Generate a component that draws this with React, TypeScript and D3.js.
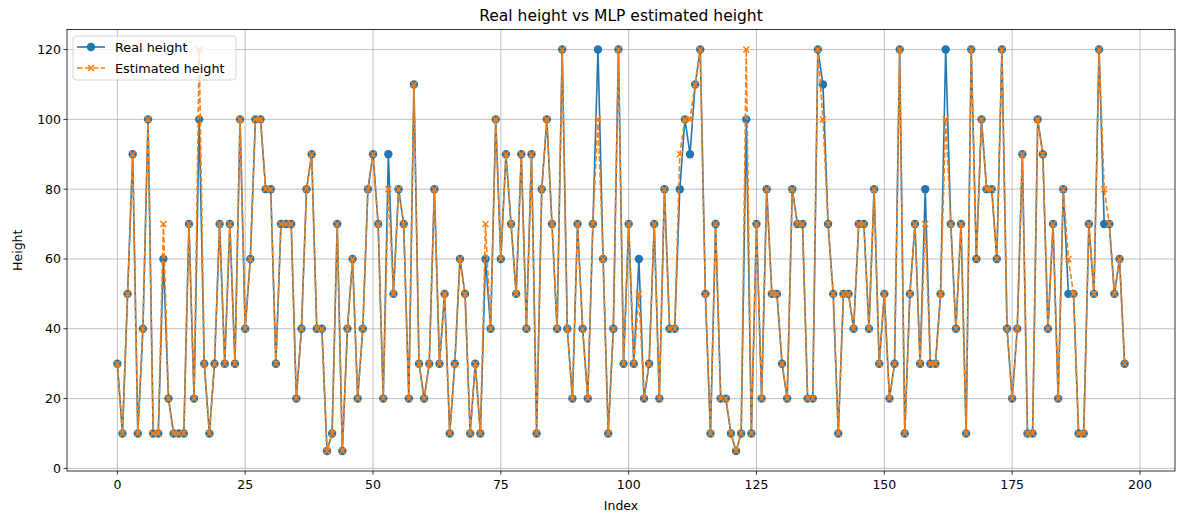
import React from "react";
import * as d3 from "d3";

// real and MLP-estimated heights, one per index 0..197
const realHeight = [
  30, 10, 50, 90, 10, 40, 100, 10, 10, 60, 20, 10, 10, 10, 70, 20, 100, 30, 10, 30,
  70, 30, 70, 30, 100, 40, 60, 100, 100, 80, 80, 30, 70, 70, 70, 20, 40, 80, 90, 40,
  40, 5, 10, 70, 5, 40, 60, 20, 40, 80, 90, 70, 20, 90, 50, 80, 70, 20, 110, 30,
  20, 30, 80, 30, 50, 10, 30, 60, 50, 10, 30, 10, 60, 40, 100, 60, 90, 70, 50, 90,
  40, 90, 10, 80, 100, 70, 40, 120, 40, 20, 70, 40, 20, 70, 120, 60, 10, 40, 120, 30,
  70, 30, 60, 20, 30, 70, 20, 80, 40, 40, 80, 100, 90, 110, 120, 50, 10, 70, 20, 20,
  10, 5, 10, 100, 10, 70, 20, 80, 50, 50, 30, 20, 80, 70, 70, 20, 20, 120, 110, 70,
  50, 10, 50, 50, 40, 70, 70, 40, 80, 30, 50, 20, 30, 120, 10, 50, 70, 30, 80, 30,
  30, 50, 120, 70, 40, 70, 10, 120, 60, 100, 80, 80, 60, 120, 40, 20, 40, 90, 10, 10,
  100, 90, 40, 70, 20, 80, 50, 50, 10, 10, 70, 50, 120, 70, 70, 50, 60, 30,
];

// indices where the estimate differs from the real value
const diffIndex = [9, 16, 53, 72, 94, 102, 110, 112, 123, 138, 158, 162, 186, 193];
const diffValue = [70, 120, 80, 70, 100, 50, 90, 100, 120, 100, 70, 100, 60, 80];

const estHeight = realHeight.map((v, i) => {
  const k = diffIndex.indexOf(i);
  return k >= 0 ? diffValue[k] : v;
});

const xTicks = [0, 25, 50, 75, 100, 125, 150, 175, 200];
const yTicks = [0, 20, 40, 60, 80, 100, 120];

const W = 1178, H = 514;
const m = { left: 67, right: 1175, top: 29.5, bottom: 471 };
const blue = "#1f77b4", orange = "#ff7f0e";
const font = "DejaVu Sans, sans-serif";

export default function App() {
  const n = realHeight.length;
  const x = d3.scaleLinear().domain([-(n - 1) * 0.05, (n - 1) * 1.05]).range([m.left, m.right]);
  const y = d3.scaleLinear().domain([5 - 115 * 0.05, 120 + 115 * 0.05]).range([m.bottom, m.top]);
  const line = d3.line<number>().x((d, i) => x(i)).y((d) => y(d));

  return (
    <svg width={W} height={H} style={{ position: "absolute", left: 0, top: 0, background: "#fff" }}>
      <text x={(m.left + m.right) / 2} y={21} textAnchor="middle" fontFamily={font} fontSize={15.5}>
        Real height vs MLP estimated height
      </text>
      {/* grid */}
      {xTicks.map((t) => (
        <line key={"gx" + t} x1={x(t)} x2={x(t)} y1={m.top} y2={m.bottom} stroke="#b0b0b0" strokeWidth={0.8} />
      ))}
      {yTicks.map((t) => (
        <line key={"gy" + t} x1={m.left} x2={m.right} y1={y(t)} y2={y(t)} stroke="#b0b0b0" strokeWidth={0.8} />
      ))}
      {/* series */}
      <path d={line(realHeight) || ""} fill="none" stroke={blue} strokeWidth={1.6} />
      {realHeight.map((v, i) => (
        <circle key={"r" + i} cx={x(i)} cy={y(v)} r={4.2} fill={blue} />
      ))}
      <path d={line(estHeight) || ""} fill="none" stroke={orange} strokeWidth={1.6} strokeDasharray="5.5,2.4" />
      {estHeight.map((v, i) => (
        <path
          key={"e" + i}
          d={`M${x(i) - 3},${y(v) - 3}L${x(i) + 3},${y(v) + 3}M${x(i) - 3},${y(v) + 3}L${x(i) + 3},${y(v) - 3}`}
          stroke={orange}
          strokeWidth={1.5}
          fill="none"
        />
      ))}
      {/* frame */}
      <rect x={m.left} y={m.top} width={m.right - m.left} height={m.bottom - m.top} fill="none" stroke="#000" strokeWidth={0.8} />
      {/* axes ticks */}
      {xTicks.map((t) => (
        <g key={"xt" + t}>
          <line x1={x(t)} x2={x(t)} y1={m.bottom} y2={m.bottom + 3.5} stroke="#000" strokeWidth={0.8} />
          <text x={x(t)} y={m.bottom + 18} textAnchor="middle" fontFamily={font} fontSize={12.5}>{t}</text>
        </g>
      ))}
      {yTicks.map((t) => (
        <g key={"yt" + t}>
          <line x1={m.left - 3.5} x2={m.left} y1={y(t)} y2={y(t)} stroke="#000" strokeWidth={0.8} />
          <text x={m.left - 6} y={y(t) + 4.5} textAnchor="end" fontFamily={font} fontSize={12.5}>{t}</text>
        </g>
      ))}
      <text x={(m.left + m.right) / 2} y={510} textAnchor="middle" fontFamily={font} fontSize={12.5}>Index</text>
      <text transform={`translate(22,${(m.top + m.bottom) / 2}) rotate(-90)`} textAnchor="middle" fontFamily={font} fontSize={12.5}>Height</text>
      {/* legend */}
      <g>
        <rect x={73} y={36} width={163} height={44} rx={3} fill="#fff" fillOpacity={0.8} stroke="#ccc" strokeWidth={0.8} />
        <line x1={77} x2={105} y1={47} y2={47} stroke={blue} strokeWidth={1.6} />
        <circle cx={91} cy={47} r={4.2} fill={blue} />
        <text x={115} y={51.5} fontFamily={font} fontSize={12.8}>Real height</text>
        <line x1={77} x2={105} y1={68} y2={68} stroke={orange} strokeWidth={1.6} strokeDasharray="5.5,2.4" />
        <path d="M88,65L94,71M88,71L94,65" stroke={orange} strokeWidth={1.5} />
        <text x={115} y={72.5} fontFamily={font} fontSize={12.8}>Estimated height</text>
      </g>
    </svg>
  );
}
